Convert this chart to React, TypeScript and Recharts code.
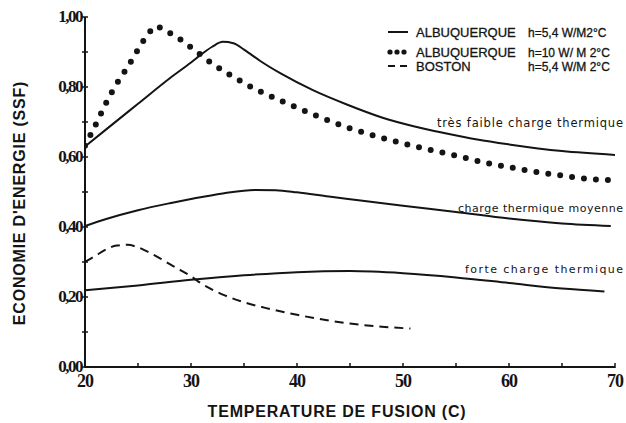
import { LineChart, Line, XAxis, YAxis } from "recharts";

// très faible charge thermique, Albuquerque h=5,4
const tempFaible = [20, 22, 25, 28, 30, 31, 32, 33, 34, 35, 36.5, 38.5, 41.5, 44.7, 48, 51, 54, 57, 60, 65, 70];
const ssfFaible = [0.63, 0.679, 0.752, 0.825, 0.87, 0.894, 0.915, 0.929, 0.925, 0.907, 0.875, 0.838, 0.791, 0.75, 0.713, 0.688, 0.668, 0.65, 0.636, 0.617, 0.606];

// Albuquerque h=10 (pointillés)
const tempH10 = [20, 20.5, 21, 22, 23, 24, 25, 26, 26.7, 27.5, 28.5, 30, 32, 34, 36, 38, 40, 42, 45, 48, 50, 52, 55, 58, 60, 62, 65, 68, 70];
const ssfH10 = [0.632, 0.662, 0.692, 0.755, 0.81, 0.856, 0.907, 0.953, 0.974, 0.962, 0.946, 0.913, 0.867, 0.829, 0.795, 0.767, 0.741, 0.716, 0.682, 0.655, 0.639, 0.624, 0.604, 0.582, 0.571, 0.56, 0.547, 0.536, 0.534];

// charge thermique moyenne
const tempMoyenne = [20, 22, 25, 28, 30, 33, 36, 38, 40, 43, 46, 50, 55, 60, 65, 69.6];
const ssfMoyenne = [0.403, 0.423, 0.448, 0.468, 0.48, 0.496, 0.506, 0.505, 0.499, 0.487, 0.476, 0.461, 0.443, 0.424, 0.41, 0.403];

// forte charge thermique
const tempForte = [20, 25, 30, 35, 40, 45, 50, 55, 60, 65, 69];
const ssfForte = [0.219, 0.233, 0.249, 0.262, 0.271, 0.274, 0.268, 0.256, 0.24, 0.224, 0.216];

// Boston h=5,4
const tempBoston = [20, 21, 22, 23, 24, 25, 26, 27, 28, 29, 30, 31, 32, 33, 35, 37, 40, 42, 45, 48, 50.7];
const ssfBoston = [0.3, 0.318, 0.336, 0.347, 0.349, 0.342, 0.328, 0.312, 0.294, 0.277, 0.259, 0.238, 0.221, 0.207, 0.185, 0.169, 0.149, 0.138, 0.124, 0.115, 0.11];

const xTicks = [20, 25, 30, 35, 40, 45, 50, 55, 60, 65, 70];
const yTicks = [0, 0.1, 0.2, 0.3, 0.4, 0.5, 0.6, 0.7, 0.8, 0.9, 1.0];

const legendRows = [
  { name: "ALBUQUERQUE", h: "h=5,4  W/M2°C", kind: "solid" },
  { name: "ALBUQUERQUE", h: "h=10  W/ M 2°C", kind: "dots" },
  { name: "BOSTON", h: "h=5,4  W/M 2°C", kind: "dash" },
];

const INK = "#141414";

const toPoints = (xs: number[], ys: number[]) => xs.map((t, i) => ({ t, ssf: ys[i] }));

function XTick(props: any) {
  const { x, y, payload } = props;
  const v = payload.value as number;
  return (
    <g>
      <line x1={x} x2={x} y1={y - 4} y2={y + 1} stroke={INK} strokeWidth={1.5} />
      {v % 10 === 0 && (
        <text
          x={x}
          y={y + 20}
          textAnchor="middle"
          fontFamily="Liberation Serif"
          fontWeight="bold"
          fontSize={18}
          letterSpacing={-1}
          fill={INK}
        >
          {v}
        </text>
      )}
    </g>
  );
}

function YTick(props: any) {
  const { x, y, payload } = props;
  const v = payload.value as number;
  const major = Math.round(v * 10) % 2 === 0;
  return (
    <g>
      <line x1={x - 3} x2={x + 3} y1={y} y2={y} stroke={INK} strokeWidth={1.5} />
      {major && (
        <text
          x={x - 3}
          y={y + 5}
          textAnchor="end"
          fontFamily="Liberation Serif"
          fontWeight="bold"
          fontSize={17}
          letterSpacing={-1.5}
          fill={INK}
        >
          {v.toFixed(2).replace(".", ",")}
        </text>
      )}
    </g>
  );
}

function LegendBox({ x, y }: { x: number; y: number }) {
  return (
    <g transform={`translate(${x},${y})`}>
      {legendRows.map((r, i) => {
        const ry = i === 0 ? 0 : i === 1 ? 20 : 34;
        return (
          <g key={i}>
            {r.kind === "solid" && <line x1={3} x2={23} y1={ry} y2={ry} stroke={INK} strokeWidth={2} />}
            {r.kind === "dots" &&
              [5, 12, 19].map((cx) => <circle key={cx} cx={cx} cy={ry} r={2.6} fill={INK} />)}
            {r.kind === "dash" && (
              <line x1={3} x2={23} y1={ry} y2={ry} stroke={INK} strokeWidth={2} strokeDasharray="7 5" />
            )}
            <text
              x={31}
              y={ry + 5}
              fontFamily="Liberation Sans"
              fontSize={13}
              stroke={INK}
              strokeWidth={0.3}
              fill={INK}
            >
              {r.name}
            </text>
            <text
              x={143}
              y={ry + 5}
              fontFamily="Liberation Sans"
              fontSize={12}
              stroke={INK}
              strokeWidth={0.3}
              fill={INK}
            >
              {r.h}
            </text>
          </g>
        );
      })}
    </g>
  );
}

const noteStyle = { fontFamily: "DejaVu Sans", fontSize: 11, fill: INK };

export default function App() {
  return (
    <div style={{ position: "absolute", left: 0, top: 0, background: "#fff" }}>
      <LineChart width={626} height={423} margin={{ top: 17, right: 11, bottom: 26, left: 10 }}>
        <XAxis
          dataKey="t"
          type="number"
          domain={[20, 70]}
          ticks={xTicks}
          allowDataOverflow
          tickSize={0}
          tickMargin={0}
          tick={<XTick />}
          axisLine={{ stroke: INK, strokeWidth: 2 }}
          height={30}
        />
        <YAxis
          type="number"
          domain={[0, 1]}
          ticks={yTicks}
          tickSize={0}
          tickMargin={0}
          tick={<YTick />}
          axisLine={{ stroke: INK, strokeWidth: 2 }}
          width={75}
        />
        <Line
          data={toPoints(tempFaible, ssfFaible)}
          dataKey="ssf"
          type="monotone"
          stroke={INK}
          strokeWidth={2}
          dot={false}
          isAnimationActive={false}
        />
        <Line
          data={toPoints(tempH10, ssfH10)}
          dataKey="ssf"
          type="monotone"
          stroke={INK}
          strokeWidth={6}
          strokeLinecap="round"
          strokeDasharray="0 12"
          dot={false}
          isAnimationActive={false}
        />
        <Line
          data={toPoints(tempMoyenne, ssfMoyenne)}
          dataKey="ssf"
          type="monotone"
          stroke={INK}
          strokeWidth={2}
          dot={false}
          isAnimationActive={false}
        />
        <Line
          data={toPoints(tempForte, ssfForte)}
          dataKey="ssf"
          type="monotone"
          stroke={INK}
          strokeWidth={2}
          dot={false}
          isAnimationActive={false}
        />
        <Line
          data={toPoints(tempBoston, ssfBoston)}
          dataKey="ssf"
          type="monotone"
          stroke={INK}
          strokeWidth={2}
          strokeDasharray="9 6"
          dot={false}
          isAnimationActive={false}
        />
        <LegendBox x={385} y={32} />
        <text x={437} y={127} textLength={186} lengthAdjust="spacing" style={{ ...noteStyle, fontSize: 11.5 }}>
          très faible charge thermique
        </text>
        <text x={458} y={212} textLength={165} lengthAdjust="spacing" style={noteStyle}>
          charge thermique moyenne
        </text>
        <text x={465} y={273} textLength={158} lengthAdjust="spacing" style={noteStyle}>
          forte charge thermique
        </text>
        <text
          x={0}
          y={0}
          transform="translate(25,203) rotate(-90)"
          textAnchor="middle"
          fontFamily="Liberation Sans"
          fontWeight="bold"
          fontSize={16}
          letterSpacing={0.8}
          fill={INK}
        >
          ECONOMIE D'ENERGIE (SSF)
        </text>
        <text
          x={337}
          y={417}
          textAnchor="middle"
          fontFamily="Liberation Sans"
          fontWeight="bold"
          fontSize={16}
          letterSpacing={0.8}
          fill={INK}
        >
          TEMPERATURE DE FUSION (C)
        </text>
      </LineChart>
    </div>
  );
}
